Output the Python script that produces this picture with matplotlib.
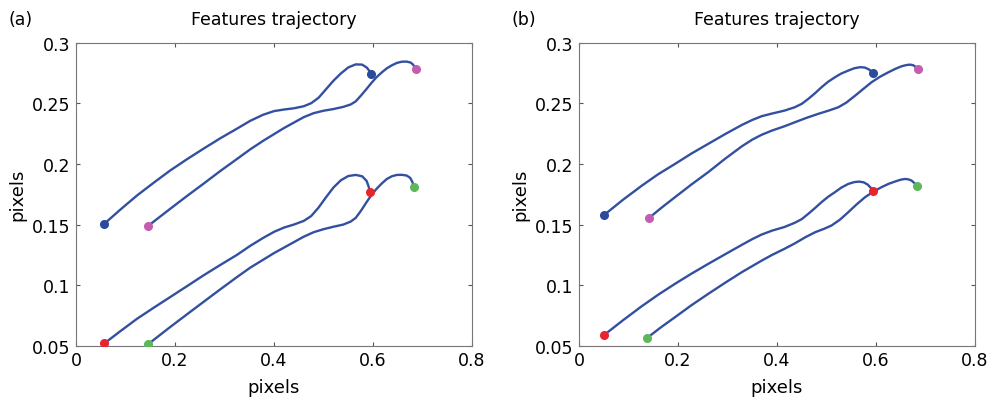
import matplotlib
matplotlib.use("Agg")
import matplotlib.pyplot as plt

plt.rcParams['font.family'] = ['DejaVu Sans']

# panel (a) trajectories
a1_x = [0.057, 0.09, 0.123, 0.157, 0.19, 0.224, 0.257, 0.291, 0.325, 0.352, 0.378, 0.40, 0.42,
        0.44, 0.46, 0.475, 0.49, 0.505, 0.52, 0.535, 0.55, 0.565, 0.578, 0.587, 0.592, 0.595]
a1_y = [0.1506, 0.1625, 0.1739, 0.1845, 0.1945, 0.2038, 0.2124, 0.2210, 0.2290, 0.2355, 0.2405,
        0.2435, 0.2448, 0.2458, 0.2475, 0.250, 0.2545, 0.2615, 0.2685, 0.2745, 0.2795, 0.2820,
        0.2818, 0.2795, 0.2770, 0.2744]
a2_x = [0.145, 0.19, 0.224, 0.257, 0.291, 0.325, 0.352, 0.378, 0.40, 0.42, 0.44, 0.46, 0.48,
        0.50, 0.52, 0.54, 0.555, 0.565, 0.575, 0.587, 0.597, 0.607, 0.618, 0.628, 0.638, 0.648,
        0.658, 0.668, 0.676, 0.681, 0.686]
a2_y = [0.1487, 0.1629, 0.1735, 0.1835, 0.1940, 0.2040, 0.2120, 0.2190, 0.2245, 0.2295, 0.2340,
        0.2385, 0.2418, 0.2438, 0.2452, 0.2470, 0.2490, 0.2515, 0.2560, 0.2618, 0.2668, 0.2714,
        0.2755, 0.2788, 0.2812, 0.2832, 0.2842, 0.2843, 0.2835, 0.2818, 0.2783]
a3_x = [0.057, 0.09, 0.123, 0.157, 0.19, 0.224, 0.257, 0.291, 0.325, 0.352, 0.378, 0.40, 0.42,
        0.44, 0.46, 0.475, 0.49, 0.505, 0.52, 0.535, 0.55, 0.565, 0.578, 0.587, 0.591, 0.594]
a3_y = [0.052, 0.0623, 0.0723, 0.0815, 0.0902, 0.0992, 0.108, 0.1166, 0.125, 0.1325, 0.1390,
        0.1440, 0.1475, 0.1500, 0.1530, 0.1570, 0.1640, 0.1725, 0.1805, 0.1865, 0.1900, 0.1909,
        0.1898, 0.1860, 0.1815, 0.1772]
a4_x = [0.145, 0.19, 0.224, 0.257, 0.291, 0.325, 0.352, 0.378, 0.40, 0.42, 0.44, 0.46, 0.48,
        0.50, 0.52, 0.54, 0.555, 0.565, 0.575, 0.587, 0.597, 0.607, 0.618, 0.628, 0.638, 0.648,
        0.658, 0.668, 0.675, 0.679, 0.683]
a4_y = [0.0512, 0.0655, 0.0760, 0.0861, 0.0965, 0.1067, 0.1145, 0.1210, 0.1265, 0.1310, 0.1355,
        0.1400, 0.1437, 0.1462, 0.1482, 0.1500, 0.1525, 0.1555, 0.1610, 0.1685, 0.1745, 0.1794,
        0.1840, 0.1876, 0.1898, 0.1909, 0.1910, 0.1904, 0.1885, 0.1855, 0.1813]

# panel (b) trajectories
b1_x = [0.051, 0.089, 0.127, 0.16, 0.194, 0.227, 0.261, 0.295, 0.329, 0.35, 0.369, 0.39, 0.415,
        0.436, 0.45, 0.463, 0.477, 0.490, 0.503, 0.517, 0.530, 0.544, 0.556, 0.568, 0.577,
        0.585, 0.590, 0.593]
b1_y = [0.158, 0.1705, 0.1821, 0.1915, 0.2, 0.2085, 0.2165, 0.2245, 0.2321, 0.2362, 0.2393,
        0.2415, 0.2439, 0.2467, 0.2495, 0.2535, 0.2583, 0.2632, 0.2676, 0.2714, 0.2745, 0.2769,
        0.2788, 0.2797, 0.2794, 0.2780, 0.2765, 0.275]
b2_x = [0.141, 0.167, 0.194, 0.227, 0.261, 0.295, 0.329, 0.35, 0.369, 0.39, 0.415, 0.436, 0.46,
        0.483, 0.505, 0.524, 0.540, 0.558, 0.575, 0.591, 0.608, 0.625, 0.640, 0.652, 0.662,
        0.669, 0.675, 0.680, 0.684]
b2_y = [0.1553, 0.1640, 0.1726, 0.1830, 0.1932, 0.2042, 0.2145, 0.2200, 0.2240, 0.2275, 0.2310,
        0.2343, 0.2380, 0.2412, 0.2440, 0.2467, 0.2505, 0.2563, 0.2620, 0.2673, 0.2718, 0.2755,
        0.2785, 0.2805, 0.2815, 0.2818, 0.2813, 0.2800, 0.2783]
b3_x = [0.051, 0.089, 0.127, 0.16, 0.194, 0.227, 0.261, 0.295, 0.329, 0.35, 0.369, 0.39, 0.415,
        0.436, 0.45, 0.463, 0.477, 0.490, 0.503, 0.517, 0.530, 0.544, 0.556, 0.566, 0.575,
        0.583, 0.589, 0.593]
b3_y = [0.0591, 0.0712, 0.0828, 0.0922, 0.1012, 0.1095, 0.1176, 0.1255, 0.1333, 0.1380, 0.1418,
        0.1450, 0.1480, 0.1515, 0.1545, 0.1588, 0.1637, 0.1685, 0.1728, 0.1767, 0.1805, 0.1835,
        0.1850, 0.1854, 0.1848, 0.1830, 0.1805, 0.178]
b4_x = [0.137, 0.165, 0.194, 0.227, 0.261, 0.295, 0.329, 0.35, 0.369, 0.39, 0.415, 0.436, 0.457,
        0.477, 0.495, 0.510, 0.527, 0.544, 0.561, 0.578, 0.595, 0.611, 0.625, 0.638, 0.650,
        0.659, 0.666, 0.672, 0.678, 0.682]
b4_y = [0.0564, 0.0652, 0.0737, 0.0835, 0.0929, 0.1020, 0.1108, 0.1158, 0.1203, 0.1250, 0.1300,
        0.1345, 0.1395, 0.1437, 0.1465, 0.1492, 0.1540, 0.1602, 0.1667, 0.1726, 0.1772, 0.1808,
        0.1835, 0.1854, 0.1870, 0.1876, 0.1872, 0.1862, 0.1840, 0.1816]

panels = [
    ("(a)", [(a1_x, a1_y), (a2_x, a2_y), (a3_x, a3_y), (a4_x, a4_y)]),
    ("(b)", [(b1_x, b1_y), (b2_x, b2_y), (b3_x, b3_y), (b4_x, b4_y)]),
]
dot_colors = ["#2c4a9c", "#c45cb0", "#e8242c", "#5cb85a"]
line_color = "#3350a0"

xticks = [0, 0.2, 0.4, 0.6, 0.8]
xtick_labels = ["0", "0.2", "0.4", "0.6", "0.8"]
yticks = [0.05, 0.1, 0.15, 0.2, 0.25, 0.3]
ytick_labels = ["0.05", "0.1", "0.15", "0.2", "0.25", "0.3"]

fig = plt.figure(figsize=(9.99, 4.02), dpi=100)
lefts = [0.0761, 0.5796]

for left, (tag, curves) in zip(lefts, panels):
    ax = fig.add_axes([left, 0.137, 0.3964, 0.7547])
    for (xs, ys), c in zip(curves, dot_colors):
        ax.plot(xs, ys, color=line_color, lw=1.7, solid_capstyle="round",
                solid_joinstyle="round")
        ax.plot(xs[0], ys[0], "o", color=c, ms=5.5, zorder=3)
        ax.plot(xs[-1], ys[-1], "o", color=c, ms=5.5, zorder=3)
    ax.set_xlim(0, 0.8)
    ax.set_ylim(0.05, 0.3)
    ax.set_xticks(xticks, xtick_labels)
    ax.set_yticks(yticks, ytick_labels)
    ax.tick_params(direction="in", top=True, right=True, labelsize=12.5,
                   length=3, color="#555555")
    ax.tick_params(axis="x", pad=4)
    ax.tick_params(axis="y", pad=4)
    for s in ax.spines.values():
        s.set_color("#777777")
        s.set_linewidth(0.8)
    ax.set_xlabel("pixels", fontsize=13)
    ax.set_ylabel("pixels", fontsize=13)
    ax.xaxis.set_label_coords(0.5, -0.105)
    ax.yaxis.set_label_coords(-0.125, 0.5)
    ax.set_title("Features trajectory", fontsize=12.5, pad=13)
    ax.text(-0.17, 1.06, tag, transform=ax.transAxes, fontsize=12.5)

fig.savefig("out.png", dpi=100)
